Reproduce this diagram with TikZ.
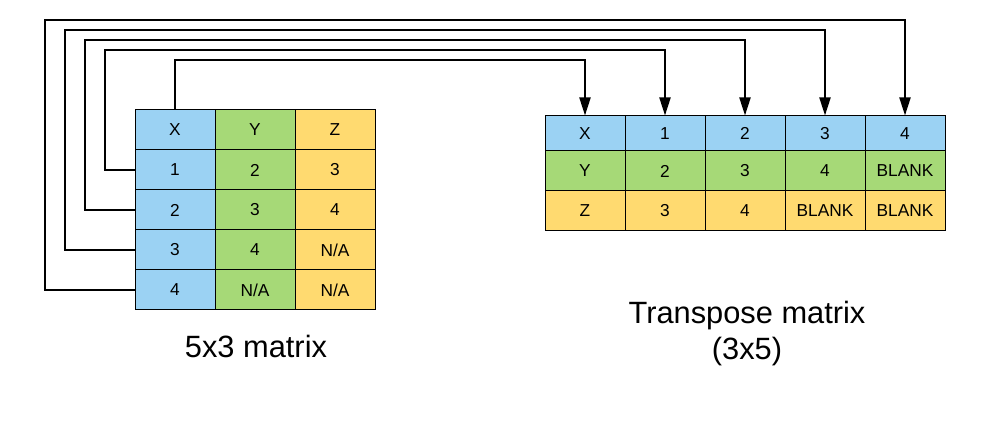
\documentclass[tikz,border=0pt]{standalone}
\usepackage{fontspec}
\setmainfont{Liberation Sans}
\usetikzlibrary{arrows.meta}
\definecolor{cblue}{RGB}{155,210,243}
\definecolor{cgreen}{RGB}{166,217,119}
\definecolor{cyellow}{RGB}{255,218,112}
\tikzset{
  cell/.style={draw=black, line width=1pt, minimum width=80pt, minimum height=40pt, inner sep=0pt, font=\fontsize{17.3}{20}\selectfont},
  hcell/.style={cell, minimum height=35pt},
  conn/.style={draw=black, line width=2pt},
  arr/.style={conn, -{Triangle[length=18pt,width=11pt]}},
  lbl/.style={font=\fontsize{30.8}{36}\selectfont, align=center, inner sep=0pt}
}
\begin{document}
\begin{tikzpicture}[x=1pt,y=-1pt]
\useasboundingbox (0,0) rectangle (986,435);
% left table 5x3
\node[cell, fill=cblue]   (l00) at (175,130) {X};
\node[cell, fill=cgreen]  (l01) at (255,130) {Y};
\node[cell, fill=cyellow] (l02) at (335,130) {Z};
\node[cell, fill=cblue]   (l10) at (175,170) {1};
\node[cell, fill=cgreen]  (l11) at (255,170) {2};
\node[cell, fill=cyellow] (l12) at (335,170) {3};
\node[cell, fill=cblue]   (l20) at (175,210) {2};
\node[cell, fill=cgreen]  (l21) at (255,210) {3};
\node[cell, fill=cyellow] (l22) at (335,210) {4};
\node[cell, fill=cblue]   (l30) at (175,250) {3};
\node[cell, fill=cgreen]  (l31) at (255,250) {4};
\node[cell, fill=cyellow] (l32) at (335,250) {N/A};
\node[cell, fill=cblue]   (l40) at (175,290) {4};
\node[cell, fill=cgreen]  (l41) at (255,290) {N/A};
\node[cell, fill=cyellow] (l42) at (335,290) {N/A};
% right table 3x5
\node[hcell, fill=cblue] (r00) at (585,133.5) {X};
\node[hcell, fill=cblue] (r01) at (665,133.5) {1};
\node[hcell, fill=cblue] (r02) at (745,133.5) {2};
\node[hcell, fill=cblue] (r03) at (825,133.5) {3};
\node[hcell, fill=cblue] (r04) at (905,133.5) {4};
\node[cell, fill=cgreen] (r10) at (585,171) {Y};
\node[cell, fill=cgreen] (r11) at (665,171) {2};
\node[cell, fill=cgreen] (r12) at (745,171) {3};
\node[cell, fill=cgreen] (r13) at (825,171) {4};
\node[cell, fill=cgreen] (r14) at (905,171) {BLANK};
\node[cell, fill=cyellow] (r20) at (585,211) {Z};
\node[cell, fill=cyellow] (r21) at (665,211) {3};
\node[cell, fill=cyellow] (r22) at (745,211) {4};
\node[cell, fill=cyellow] (r23) at (825,211) {BLANK};
\node[cell, fill=cyellow] (r24) at (905,211) {BLANK};
% connectors
\draw[arr] (l00.north) -- (175,60) -| (r00.north);
\draw[arr] (l10.west) -| (105,50) -| (r01.north);
\draw[arr] (l20.west) -| (85,40) -| (r02.north);
\draw[arr] (l30.west) -| (65,30) -| (r03.north);
\draw[arr] (l40.west) -| (45,20) -| (r04.north);
% labels
\node[lbl] (lab1) at (256,346) {5x3 matrix};
\node[lbl] (lab2) at (747,334) {Transpose matrix\\(3x5)};
\end{tikzpicture}
\end{document}
